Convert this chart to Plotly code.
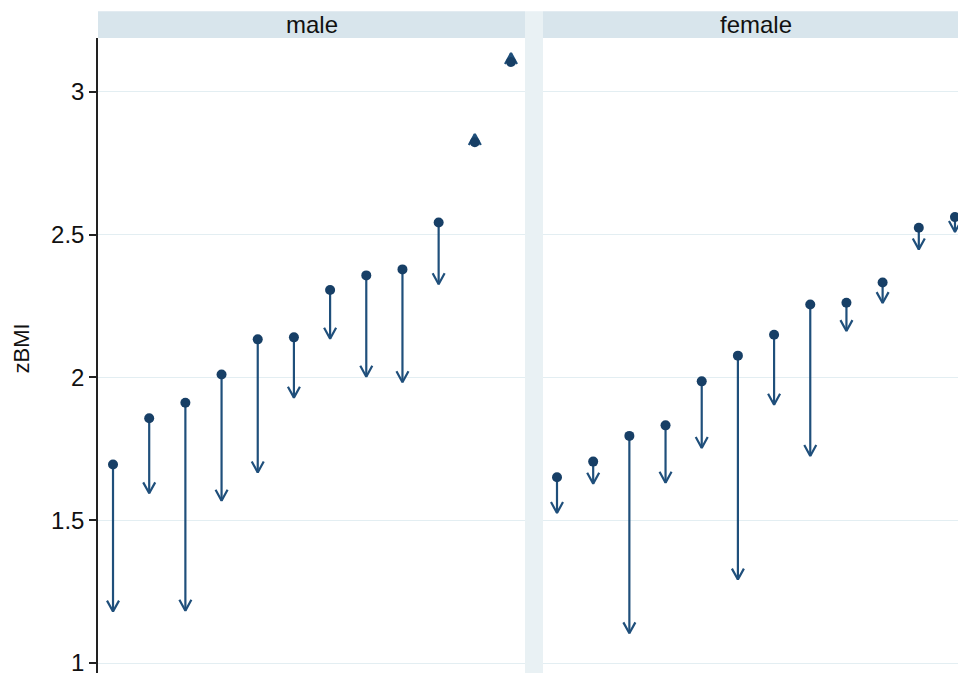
import plotly.graph_objects as go

# ---- data ----
ids = list(range(1, 13))
male_before = [1.695, 1.857, 1.911, 2.010, 2.133, 2.140, 2.306, 2.357, 2.378, 2.542, 2.823, 3.104]
male_after = [1.180, 1.594, 1.183, 1.568, 1.667, 1.929, 2.135, 2.002, 1.983, 2.326, 2.852, 3.135]
female_before = [1.650, 1.705, 1.795, 1.832, 1.986, 2.076, 2.149, 2.255, 2.261, 2.332, 2.524, 2.561]
female_after = [1.525, 1.628, 1.104, 1.631, 1.753, 1.292, 1.904, 1.725, 2.162, 2.260, 2.448, 2.509]
panels = ["male", "female"]
y_ticks = [1, 1.5, 2, 2.5, 3]

# ---- geometry ----
W, H = 958, 676
ML, MT = 98, 38
PW, PH = W - ML, H - MT
px_per_x = 36.18
y_range = [0.965, 3.188]
px_per_y = PH / (y_range[1] - y_range[0])
male_range = [0.585, 12.387]
female_range = [0.613, 0.613 + 415 / px_per_x]
male_dom = [0, 427 / PW]
female_dom = [445 / PW, 1]

LINE_C = "#1f4f7b"
DOT_C = "#173f66"
HW = 6 / px_per_x   # arrowhead half-width in x units
HH = 11 / px_per_y  # arrowhead height in y units


def arrow_xy(xs, y0s, y1s):
    X, Y = [], []
    for x, a, b in zip(xs, y0s, y1s):
        X += [x, x, None]
        Y += [a, b, None]
        s = 1 if b < a else -1
        X += [x - HW, x, x + HW, None]
        Y += [b + s * HH, b, b + s * HH, None]
    return X, Y


fig = go.Figure()
for k, (bef, aft) in enumerate([(male_before, male_after), (female_before, female_after)]):
    xa = "x" if k == 0 else "x2"
    ya = "y" if k == 0 else "y2"
    X, Y = arrow_xy(ids, bef, aft)
    fig.add_trace(go.Scatter(x=X, y=Y, mode="lines", xaxis=xa, yaxis=ya,
                             line=dict(color=LINE_C, width=2.2), hoverinfo="skip",
                             showlegend=False))
    fig.add_trace(go.Scatter(x=ids, y=bef, mode="markers", xaxis=xa, yaxis=ya,
                             marker=dict(color=DOT_C, size=10, line=dict(width=0)),
                             showlegend=False))

font = "Liberation Sans, Arial, sans-serif"
strip_top = 1 + 27 / PH

shapes = [
    dict(type="rect", xref="paper", yref="paper", x0=male_dom[0], x1=male_dom[1],
         y0=1, y1=strip_top, fillcolor="#d8e5ec", line=dict(width=0), layer="below"),
    dict(type="rect", xref="paper", yref="paper", x0=female_dom[0], x1=female_dom[1],
         y0=1, y1=strip_top, fillcolor="#d8e5ec", line=dict(width=0), layer="below"),
    dict(type="rect", xref="paper", yref="paper", x0=male_dom[1], x1=female_dom[0],
         y0=0, y1=strip_top, fillcolor="#e9f1f4", line=dict(width=0), layer="below"),
]

annotations = [
    dict(text=panels[0], x=6.5, xref="x", y=(1 + strip_top) / 2, yref="paper",
         showarrow=False, font=dict(size=24, color="#111"), xanchor="center", yanchor="middle"),
    dict(text=panels[1], x=6.5, xref="x2", y=(1 + strip_top) / 2, yref="paper",
         showarrow=False, font=dict(size=24, color="#111"), xanchor="center", yanchor="middle"),
    dict(text="zBMI", x=(22 - ML) / PW, xref="paper", y=(H - 350) / PH, yref="paper",
         textangle=-90, showarrow=False, font=dict(size=22, color="#111"),
         xanchor="center", yanchor="middle"),
]

axis_common = dict(showgrid=False, zeroline=False, showticklabels=False, ticks="",
                   showline=False)
fig.update_layout(
    width=W, height=H,
    margin=dict(l=ML, r=0, t=MT, b=0, pad=0),
    paper_bgcolor="white", plot_bgcolor="white",
    font=dict(family=font, size=22, color="#111"),
    xaxis=dict(domain=male_dom, range=male_range, **axis_common),
    xaxis2=dict(domain=female_dom, range=female_range, **axis_common),
    yaxis=dict(range=y_range, tickvals=y_ticks, ticktext=[str(t) for t in y_ticks],
               showgrid=True, gridcolor="#e3eef2", gridwidth=1, zeroline=False,
               showline=True, linecolor="#222", linewidth=1.5,
               ticks="outside", ticklen=7, tickcolor="#222", tickwidth=1.5,
               ticklabeloverflow="allow",
               tickfont=dict(size=24, color="#111"), anchor="x"),
    yaxis2=dict(range=y_range, tickvals=y_ticks, showgrid=True, gridcolor="#e3eef2",
                gridwidth=1, zeroline=False, showline=False, showticklabels=False,
                ticks="", anchor="x2", matches="y"),
    shapes=shapes,
    annotations=annotations,
    showlegend=False,
)

fig.write_html("out.html", config={"displayModeBar": False},
               post_script="document.body.style.margin='0';document.body.style.overflow='hidden';")
